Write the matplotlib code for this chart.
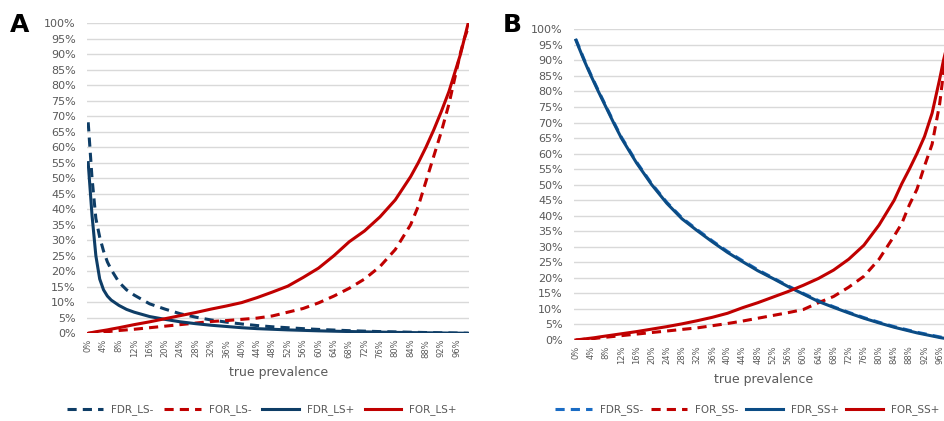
import matplotlib
matplotlib.use("Agg")
import matplotlib.pyplot as plt

prev = [0, 1, 2, 3, 4, 5, 6, 8, 10, 12, 16, 20, 24, 28, 32, 36, 40, 44, 48, 52, 56,
        60, 64, 68, 72, 76, 80, 84, 86, 88, 90, 92, 94, 96, 97, 98, 99]

# panel A (values in %)
fdr_ls_minus = [68, 50, 37, 31, 26.5, 23, 20.5, 16.5, 14, 12.3, 9.5, 7.8, 6.3, 5.2, 4.3, 3.6, 3.0,
                2.5, 2.1, 1.8, 1.5, 1.25, 1.05, 0.85, 0.7, 0.55, 0.45, 0.35, 0.3, 0.25, 0.2,
                0.15, 0.12, 0.08, 0.06, 0.04, 0.02]
for_ls_minus = [0, 0.1, 0.2, 0.3, 0.4, 0.5, 0.65, 0.9, 1.1, 1.3, 1.8, 2.3, 2.8, 3.3, 3.8, 4.1, 4.5,
                4.9, 5.6, 6.8, 8.0, 9.8, 12, 14.5, 17.5, 21.5, 27, 35, 41, 49, 57, 65, 74, 85,
                90.5, 95, 98.5]
fdr_ls_plus = [55, 38, 25, 17.5, 14, 12, 10.7, 9, 7.7, 6.8, 5.4, 4.5, 3.7, 3.1, 2.6, 2.2, 1.8,
               1.5, 1.3, 1.1, 0.95, 0.8, 0.68, 0.57, 0.47, 0.38, 0.3, 0.23, 0.2, 0.17, 0.14,
               0.11, 0.08, 0.05, 0.04, 0.02, 0.01]
for_ls_plus = [0, 0.25, 0.5, 0.7, 0.9, 1.1, 1.35, 1.8, 2.3, 2.8, 3.7, 4.7, 5.7, 6.7, 7.8, 8.8, 9.9,
               11.5, 13.3, 15.2, 18, 21, 25, 29.5, 33, 37.5, 43, 50.5, 55, 60, 65.5, 71.5,
               78, 86, 90, 95, 100]

# panel B (values in %)
fdr_ss_minus = [96.8, 93.8, 90.8, 88.0, 85.3, 82.7, 80.1, 75.1, 70.1, 65.3, 57.3, 50.3, 44.3,
                39.3, 35.5, 31.9, 28.5, 25.5, 22.6, 20.0, 17.4, 15.0, 12.7, 10.7, 8.9, 7.2,
                5.7, 4.3, 3.7, 3.1, 2.5, 2.0, 1.5, 1.0, 0.8, 0.6, 0.4]
for_ss_minus = [0, 0.1, 0.2, 0.3, 0.4, 0.5, 0.65, 0.9, 1.15, 1.4, 1.9, 2.4, 2.9, 3.4, 3.9, 4.6,
                5.3, 6.1, 7.0, 7.9, 8.8, 9.8, 12.0, 14, 17, 20.5, 26, 33.5, 37.5, 43.5, 48.5,
                56, 63, 76, 86, 93, 99]
fdr_ss_plus = [96.5, 93.5, 90.5, 87.7, 85, 82.4, 79.8, 74.8, 69.8, 65, 57, 50, 44, 39, 35.2,
               31.6, 28.2, 25.2, 22.3, 19.8, 17.2, 14.8, 12.4, 10.5, 8.7, 7.0, 5.5, 4.1, 3.5,
               2.9, 2.3, 1.8, 1.3, 0.8, 0.6, 0.4, 0.2]
for_ss_plus = [0, 0.15, 0.3, 0.45, 0.6, 0.75, 0.95, 1.3, 1.65, 2.0, 2.7, 3.5, 4.3, 5.2, 6.2, 7.3,
               8.6, 10.4, 12.0, 13.8, 15.6, 17.6, 19.8, 22.5, 26.0, 30.5, 37, 45, 50.3, 55, 60,
               65.5, 73, 84, 90, 95, 100]

xtick_vals = list(range(0, 97, 4))
ytick_vals = list(range(0, 101, 5))

navy = "#0E3D66"
blue_b = "#0B4C85"
light_blue = "#1A6CC4"
red = "#C00000"
grey_txt = "#595959"

fig = plt.figure(figsize=(9.45, 4.21), dpi=100)
axA = fig.add_axes([0.0921, 0.2083, 0.4046, 0.7371])
axB = fig.add_axes([0.6074, 0.1924, 0.4010, 0.7380])


def style(ax, xlim):
    ax.set_xlim(*xlim)
    ax.set_ylim(0, 100)
    ax.set_yticks(ytick_vals)
    ax.set_yticklabels([f"{v}%" for v in ytick_vals], fontsize=8, color=grey_txt)
    ax.set_xticks(xtick_vals)
    ax.set_xticklabels([f"{v}%" for v in xtick_vals], fontsize=6, color=grey_txt,
                       rotation=90)
    ax.tick_params(length=0, pad=4)
    ax.tick_params(axis="y", pad=8)
    ax.grid(axis="y", color="#D9D9D9", lw=1)
    ax.set_axisbelow(True)
    for s in ax.spines.values():
        s.set_visible(False)
    ax.set_xlabel("true prevalence", fontsize=9, color=grey_txt, labelpad=6)


lw = 2.2
axA.plot(prev, fdr_ls_minus, color=navy, lw=lw, dashes=(3, 2), label="FDR_LS-")
axA.plot(prev, for_ls_minus, color=red, lw=lw, dashes=(3, 2), label="FOR_LS-")
axA.plot(prev, fdr_ls_plus, color=navy, lw=lw, label="FDR_LS+")
axA.plot(prev, for_ls_plus, color=red, lw=lw, label="FOR_LS+")
style(axA, (-0.3, 99.3))

axB.plot(prev, fdr_ss_minus, color=light_blue, lw=lw, dashes=(3, 2), label="FDR_SS-")
axB.plot(prev, for_ss_minus, color=red, lw=lw, dashes=(3, 2), label="FOR_SS-")
axB.plot(prev, fdr_ss_plus, color=blue_b, lw=lw, label="FDR_SS+")
axB.plot(prev, for_ss_plus, color=red, lw=lw, label="FOR_SS+")
style(axB, (-0.5, 99.5))

for ax, cx, cs in ((axA, 0.277, 1.0), (axB, 0.791, 0.7)):
    ax.legend(loc="center", bbox_to_anchor=(cx, 0.027), bbox_transform=fig.transFigure,
              ncol=4, frameon=False, fontsize=7.5, handlelength=3.5, handletextpad=0.8,
              columnspacing=cs, labelcolor=grey_txt)

fig.text(0.010, 0.925, "A", fontsize=18, fontweight="bold")
fig.text(0.532, 0.925, "B", fontsize=18, fontweight="bold")

fig.savefig("out.png", dpi=100)
